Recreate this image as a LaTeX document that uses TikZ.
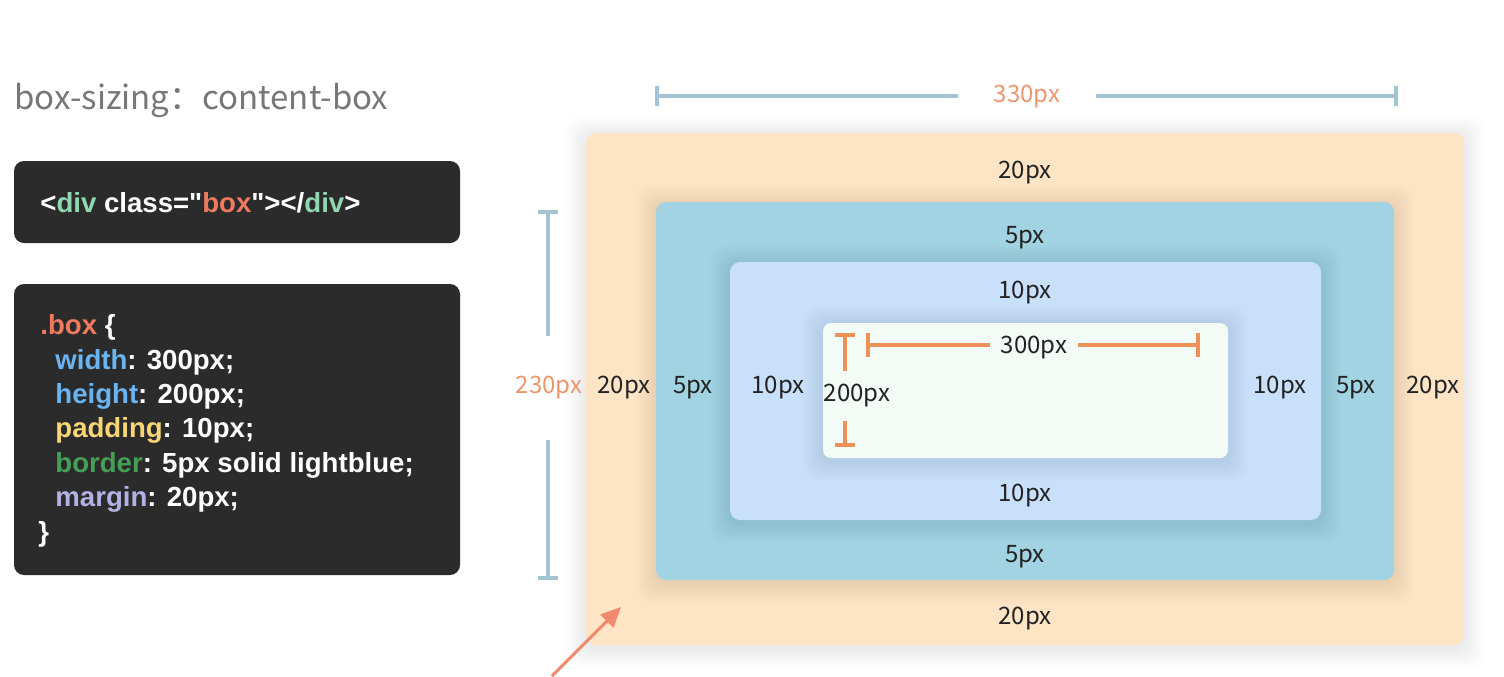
\documentclass[tikz,border=0pt]{standalone}
\usepackage{fontspec}
\setmainfont{Noto Sans CJK SC}
\newfontfamily\codefont{Liberation Sans}
\usetikzlibrary{arrows.meta}

\definecolor{codebg}{HTML}{2B2B2B}
\definecolor{margincol}{HTML}{FDE4C5}
\definecolor{bordercol}{HTML}{A2D3E2}
\definecolor{paddingcol}{HTML}{C8E0FA}
\definecolor{contentcol}{HTML}{F2FBF6}
\definecolor{dimblue}{HTML}{A3C4D2}
\definecolor{dimorange}{HTML}{EE9058}
\definecolor{labelorange}{HTML}{F0956A}
\definecolor{arrowcol}{HTML}{F08A6E}
\definecolor{keyorange}{HTML}{F07A5E}
\definecolor{keyblue}{HTML}{6AB4F2}
\definecolor{keyyellow}{HTML}{F8D676}
\definecolor{keygreen}{HTML}{45A055}
\definecolor{keylav}{HTML}{B4B2E4}
\definecolor{tagcol}{HTML}{90D8B2}
\definecolor{titlegray}{HTML}{777777}
\definecolor{labelcol}{HTML}{222222}

% soft halo round a layer: x1,y1,x2,y2
\newcommand{\softshadow}[4]{%
  \foreach \s in {1,...,10}
    \fill[black, opacity=0.009, rounded corners=7pt]
      (#1-\s*2, #2-\s*2+3) rectangle (#3+\s*2, #4+\s*2+3);}

\tikzset{
  codeline/.style={anchor=west, inner sep=0pt, text=white,
    font=\codefont\bfseries\fontsize{13.8}{16}\selectfont},
  sizelabel/.style={inner sep=0pt, text=labelcol, yshift=-1.5pt,
    font=\fontsize{12}{14}\selectfont},
  layerbox/.style={rounded corners=5pt},
  innerdim/.style={draw=dimorange, line width=1.6pt}
}

\begin{document}
\begin{tikzpicture}[x=0.5pt, y=-0.5pt]
  \useasboundingbox (0,0) rectangle (1504,676);
  % title
  \node[anchor=west, inner sep=0pt, text=titlegray, font=\fontsize{16.5}{20}\selectfont]
    (title) at (14,100) {box-sizing：content-box};
  % html snippet
  \fill[codebg, rounded corners=5pt] (14,161) rectangle (460,243);
  \node[codeline] (html) at (40,203) {<\textcolor{tagcol}{div} class="\textcolor{keyorange}{box}"></\textcolor{tagcol}{div}>};
  % css snippet
  \fill[codebg, rounded corners=5pt] (14,284) rectangle (460,575);
  \node[codeline] (css0) at (40,327) {\textcolor{keyorange}{.box} \{};
  \node[codeline] (css1) at (55,362) {\textcolor{keyblue}{width}: 300px;};
  \node[codeline] (css2) at (55,396) {\textcolor{keyblue}{height}: 200px;};
  \node[codeline] (css3) at (55,430) {\textcolor{keyyellow}{padding}: 10px;};
  \node[codeline] (css4) at (55,465) {\textcolor{keygreen}{border}: 5px solid lightblue;};
  \node[codeline] (css5) at (55,499) {\textcolor{keylav}{margin}: 20px;};
  \node[codeline] (css6) at (38,534) {\}};

  % the box layers, outside in
  \softshadow{586}{133}{1464}{645}
  \fill[margincol, layerbox] (586,133) rectangle (1464,645);
  \softshadow{656}{202}{1394}{580}
  \fill[bordercol, layerbox] (656,202) rectangle (1394,580);
  \softshadow{730}{262}{1321}{520}
  \fill[paddingcol, layerbox] (730,262) rectangle (1321,520);
  \softshadow{823}{323}{1228}{458}
  \fill[contentcol, rounded corners=4pt] (823,323) rectangle (1228,458);

  % layer sizes
  \node[sizelabel] (mtop) at (1025,170) {20px};
  \node[sizelabel] (btop) at (1025,235) {5px};
  \node[sizelabel] (ptop) at (1025,290) {10px};
  \node[sizelabel] (pbot) at (1025,493) {10px};
  \node[sizelabel] (bbot) at (1025,554) {5px};
  \node[sizelabel] (mbot) at (1025,616) {20px};
  \node[sizelabel] (mleft) at (624,385) {20px};
  \node[sizelabel] (bleft) at (693,385) {5px};
  \node[sizelabel] (pleft) at (778,385) {10px};
  \node[sizelabel] (pright) at (1280,385) {10px};
  \node[sizelabel] (bright) at (1356,385) {5px};
  \node[sizelabel] (mright) at (1433,385) {20px};

  % outer width
  \coordinate (wl) at (657,96);
  \coordinate (wr) at (1396,96);
  \node[sizelabel, text=labelorange, minimum width=68.5pt] (wlab) at (1027,94) {330px};
  \draw[dimblue, line width=1.6pt] (wl) -- (wlab.west |- wl);
  \draw[dimblue, line width=1.6pt] (wlab.east |- wr) -- (wr);
  \draw[dimblue, line width=1.6pt] (657,86) -- (657,106) (1396,86) -- (1396,106);

  % outer height
  \coordinate (ht) at (548,212);
  \coordinate (hb) at (548,578);
  \node[sizelabel, text=labelorange, minimum height=52pt] (hlab) at (549,385) {230px};
  \draw[dimblue, line width=1.6pt] (ht) -- (hlab.north -| ht);
  \draw[dimblue, line width=1.6pt] (hlab.south -| hb) -- (hb);
  \draw[dimblue, line width=1.6pt] (538,212) -- (558,212) (538,578) -- (558,578);

  % content width
  \coordinate (cl) at (868,345);
  \coordinate (cr) at (1198,345);
  \node[sizelabel, minimum width=44pt] (clab) at (1034,345) {300px};
  \draw[innerdim] (cl) -- (clab.west |- cl);
  \draw[innerdim] (clab.east |- cr) -- (cr);
  \draw[innerdim] (868,333) -- (868,357) (1198,333) -- (1198,357);

  % content height
  \coordinate (ct) at (845,335);
  \coordinate (cb) at (845,445);
  \node[sizelabel, minimum height=25pt] (chlab) at (857,393) {200px};
  \draw[innerdim] (ct) -- (chlab.north -| ct);
  \draw[innerdim] (chlab.south -| cb) -- (cb);
  \draw[innerdim] (835,335) -- (855,335) (835,445) -- (855,445);

  % pointer into the margin
  \coordinate (ptail) at (552,676);
  \coordinate (phead) at (621,607);
  \draw[arrowcol, line width=1.5pt, -{Triangle[length=10pt,width=9pt]}] (ptail) -- (phead);
\end{tikzpicture}
\end{document}
